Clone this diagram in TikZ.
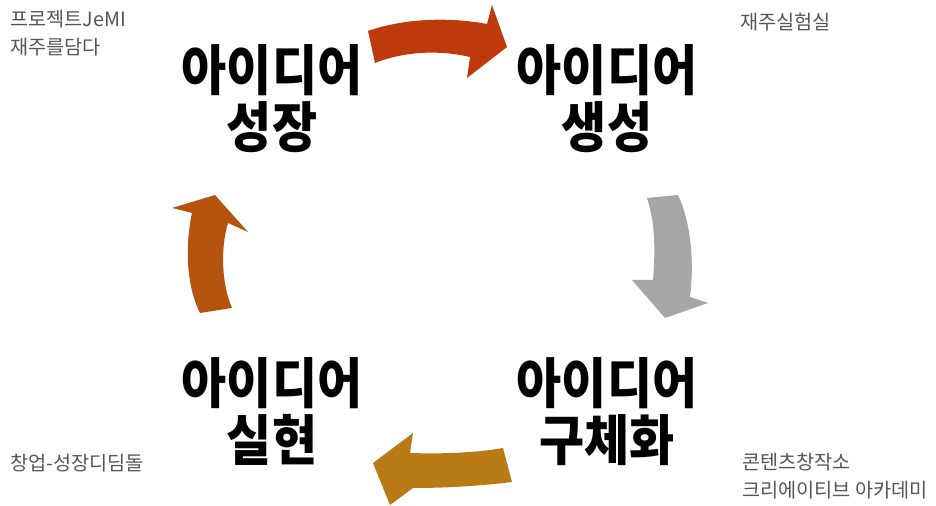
\documentclass[tikz,border=0pt]{standalone}
\usepackage{fontspec}
\newfontfamily\kofont{Noto Sans CJK KR}
\newfontfamily\kobig[FakeStretch=0.9]{Noto Sans CJK KR}
\definecolor{arrowred}{RGB}{190,58,12}
\definecolor{arrowgray}{RGB}{166,166,166}
\definecolor{arrowgold}{RGB}{184,122,20}
\definecolor{arrowrust}{RGB}{180,84,14}
\definecolor{notegray}{RGB}{85,85,85}
\tikzset{
    stage/.style={align=center, inner sep=0pt,
        font=\kobig\bfseries\fontsize{31}{32.4}\selectfont},
    note/.style={align=left, anchor=west, inner sep=0pt, text=notegray,
        font=\kofont\fontsize{11.2}{16}\selectfont},
}
\begin{document}
\begin{tikzpicture}[x=0.02cm, y=-0.02cm]
    \useasboundingbox (0, 0) rectangle (936, 506);
    %\draw[lightgray, step=50] (0, 0) grid (936, 506);
    % big stage labels
    \node[stage] (grow) at (272, 98.5) {아이디어\\성장};
    \node[stage] (make) at (607, 98.5) {아이디어\\생성};
    \node[stage] (shape) at (607, 411.5) {아이디어\\구체화};
    \node[stage] (run) at (272, 411.5) {아이디어\\실현};
    % small notes
    \node[note] (jemi) at (10, 33) {프로젝트JeMI\\재주를담다};
    \node[note] (lab) at (740, 22) {재주실험실};
    \node[note] (step) at (10, 463) {창업-성장디딤돌};
    \node[note] (studio) at (742, 476) {콘텐츠창작소\\크리에이티브 아카데미};
    % curved block arrows
    \fill[arrowred] (368, 31) .. controls (405, 18) and (450, 17) .. (487, 24)
        -- (492, 5) -- (507, 47) -- (467, 78) -- (470, 57)
        .. controls (440, 50) and (405, 51) .. (375, 63) -- cycle;
    \fill[arrowgray] (647, 198) .. controls (656, 225) and (655, 255) .. (653, 280)
        -- (632, 280) -- (665, 318) -- (708, 303) -- (690, 297)
        .. controls (694, 265) and (692, 225) .. (678, 195) -- cycle;
    \fill[arrowgold] (503, 448) .. controls (475, 453) and (440, 454) .. (410, 453)
        -- (413, 433) -- (373, 463) -- (390, 505) -- (413, 488)
        .. controls (445, 488) and (480, 486) .. (512, 482) -- cycle;
    \fill[arrowrust] (200, 313) .. controls (186, 285) and (185, 245) .. (192, 213)
        -- (172, 208) -- (215, 195) -- (248, 232) -- (228, 223)
        .. controls (220, 250) and (222, 285) .. (232, 308) -- cycle;
\end{tikzpicture}
\end{document}
